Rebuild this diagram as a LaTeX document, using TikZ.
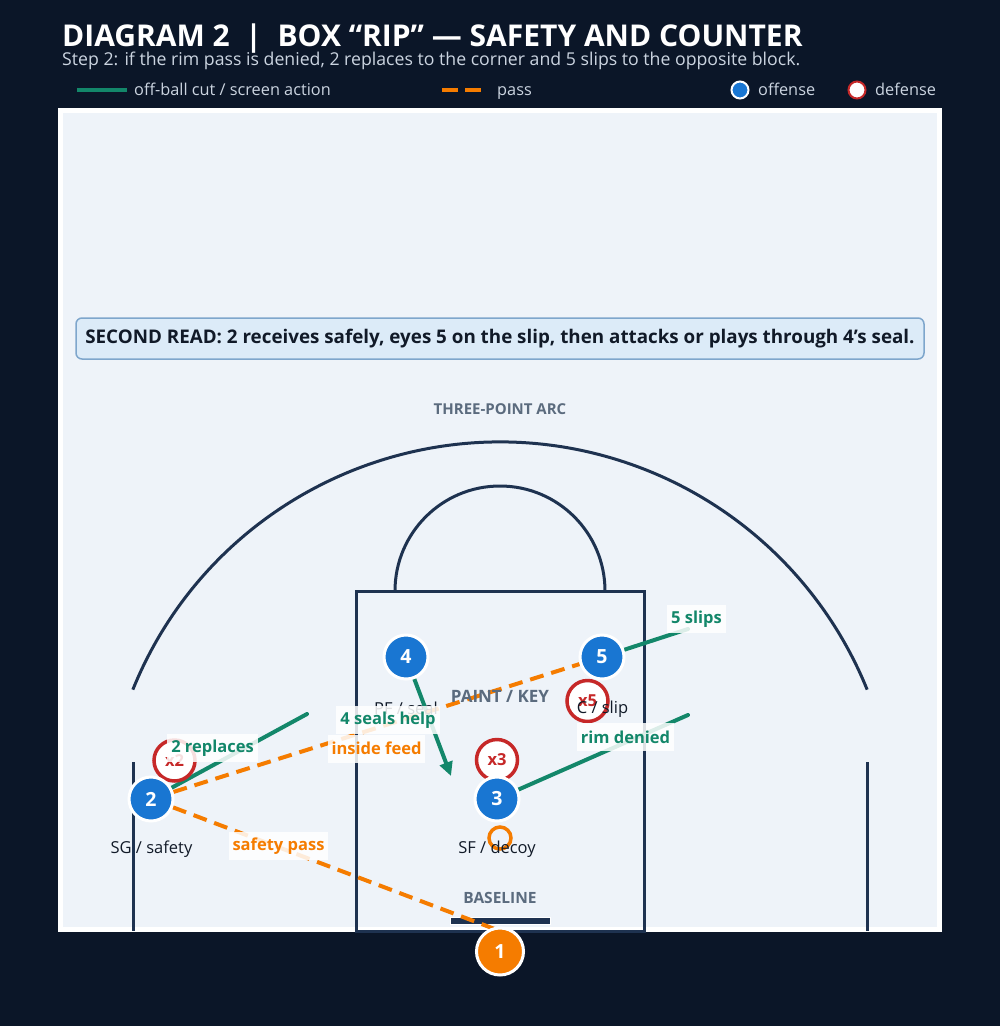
\documentclass[tikz,border=0pt]{standalone}
\usepackage{fontspec}
\setmainfont{Open Sans}
\usetikzlibrary{arrows.meta}
\definecolor{night}{HTML}{0B1628}
\definecolor{courtfill}{HTML}{EEF3F9}
\definecolor{courtnavy}{HTML}{1E3250}
\definecolor{cutgreen}{HTML}{13876A}
\definecolor{passorange}{HTML}{F57C00}
\definecolor{offblue}{HTML}{1976D2}
\definecolor{defred}{HTML}{C62828}
\definecolor{markgrey}{HTML}{5B6B7E}
\definecolor{subgrey}{HTML}{CBD4E0}
\definecolor{readfill}{HTML}{DCEBF8}
\definecolor{readline}{HTML}{7EA6CC}
\definecolor{ink}{HTML}{111A28}
\newcommand\pxfont[1]{\fontsize{#1}{#1}\selectfont}
\pgfdeclarelayer{court}
\pgfdeclarelayer{lines}
\pgfsetlayers{court,lines,main}

\begin{document}
\begin{tikzpicture}[x=1pt, y=1pt, yscale=-1,
    courtline/.style={draw=courtnavy, line width=3pt},
    courtmark/.style={text=markgrey, font=\pxfont{15}\bfseries},
    cut/.style={draw=cutgreen, line width=4pt, line cap=round},
    pass/.style={draw=passorange, line width=4pt, dash pattern=on 14pt off 8pt},
    offense/.style={circle, minimum size=44pt, inner sep=0pt, fill=offblue, draw=white,
      line width=3pt, text=white, font=\pxfont{19.5}\bfseries},
    defense/.style={circle, minimum size=41pt, inner sep=0pt, fill=white, draw=defred,
      line width=3.5pt, text=defred, font=\pxfont{16.5}\bfseries},
    role/.style={text=ink, font=\pxfont{16.5}},
    tag/.style={fill=white, fill opacity=0.85, text opacity=1, inner xsep=4pt, inner ysep=2pt,
      minimum height=28pt, font=\pxfont{16.5}\bfseries},
    legend/.style={anchor=base west, inner sep=0pt, text=subgrey, font=\pxfont{16.3}}]
    \useasboundingbox (0,0) rectangle (1000,1026);

    % court
    \begin{pgfonlayer}{court}
    \fill[night] (0,0) rectangle (1000,1026);
    \draw[draw=white, line width=5pt, fill=courtfill] (60.5,110.5) rectangle (939.5,929.5);
    \draw[courtline] (500,838) ++(202:396) arc[start angle=202, end angle=338, radius=396];
    \draw[courtline] (133,762) -- (133,931);
    \draw[courtline] (867,762) -- (867,931);
    \draw[courtline] (356,591) rectangle (644,931);
    \draw[courtline] (395,591) arc[start angle=180, end angle=360, radius=105];
    \draw[fill=courtnavy, draw=white, line width=1pt] (450,917) rectangle (550,924);
    \draw[draw=passorange, line width=3.5pt] (500,838) circle(11);
    \end{pgfonlayer}

    % header and legend
    \node[anchor=base west, inner sep=0pt, text=white, font=\pxfont{30}\bfseries] (title) at (62,46)
      {DIAGRAM 2 \ | \ BOX “RIP” — SAFETY AND COUNTER};
    \node[anchor=base west, inner sep=0pt, text=subgrey, font=\pxfont{17.7}] (subtitle) at (62,65.5)
      {Step 2: if the rim pass is denied, 2 replaces to the corner and 5 slips to the opposite block.};
    \draw[cut, line cap=butt] (77,90) -- (127,90);
    \node[legend] (lcut) at (134,95.5) {off-ball cut / screen action};
    \draw[pass, dash pattern=on 16pt off 7pt] (442,90) -- (484,90);
    \node[legend] (lpass) at (497,95.5) {pass};
    \draw[fill=offblue, draw=white, line width=2pt] (740,90) circle(8.5);
    \node[legend] (loff) at (758,95.5) {offense};
    \draw[fill=white, draw=defred, line width=2pt] (857,90) circle(8.5);
    \node[legend] (ldef) at (875,95.5) {defense};

    \node[courtmark] (arclbl) at (500,409) {THREE-POINT ARC};
    \node[courtmark, font=\pxfont{17}\bfseries] (keylbl) at (500,696) {PAINT / KEY};
    \node[courtmark, font=\pxfont{15.5}\bfseries] (baselbl) at (500,898) {BASELINE};
    \node[rounded corners=6pt, minimum width=848pt, minimum height=41pt, fill=readfill,
      draw=readline, line width=1.5pt, text=ink, font=\pxfont{18.8}\bfseries] (read) at (500,338.5)
      {SECOND READ: 2 receives safely, eyes 5 on the slip, then attacks or plays through 4’s seal.};

    % defense
    \node[defense] (x2) at (174.5,760.5) {x2};
    \node[defense] (x5) at (587.5,701) {x5};
    \node[defense] (x3) at (497,760) {x3};

    % roles
    \node[role] (r2) at (151.5,849) {SG / safety};
    \node[role] (r4) at (406,708) {PF / seal};
    \node[role] (r5) at (602.5,709) {C / slip};
    \node[role] (r3) at (497,849) {SF / decoy};

    % offense
    \node[offense] (p4) at (406,657) {4};
    \node[offense] (p5) at (602,657) {5};
    \node[offense] (p2) at (151,799) {2};
    \node[offense] (p3) at (497,799) {3};
    \node[offense, minimum size=47pt, fill=passorange] (p1) at (500,951.5) {1};

    % actions
    \coordinate (c2end) at (307,714);
    \coordinate (c4end) at (451,776);
    \coordinate (c3end) at (688,715);
    \coordinate (c5end) at (688,629);
    \coordinate (inbound) at (500,931);
    \begin{pgfonlayer}{lines}
    \draw[cut] (p2) -- (c2end);
    \draw[cut, line cap=butt, -{Triangle[length=14pt, width=13pt]}] (p4) -- (c4end);
    \draw[cut] (p3) -- (c3end);
    \draw[cut] (p5) -- (c5end);
    \draw[pass] (p2) -- (p5);
    \draw[pass] (p2) -- (inbound);
    \end{pgfonlayer}

    % labels
    \node[tag, text=cutgreen] (t2) at (212.5,748) {2 replaces};
    \node[tag, text=cutgreen] (t4) at (388,720) {4 seals help};
    \node[tag, text=passorange] (tfeed) at (376.5,748.5) {inside feed};
    \node[tag, text=passorange] (tsafe) at (278.5,846) {safety pass};
    \node[tag, text=cutgreen] (t3) at (625.5,737) {rim denied};
    \node[tag, text=cutgreen] (t5) at (696.5,619) {5 slips};
\end{tikzpicture}
\end{document}
